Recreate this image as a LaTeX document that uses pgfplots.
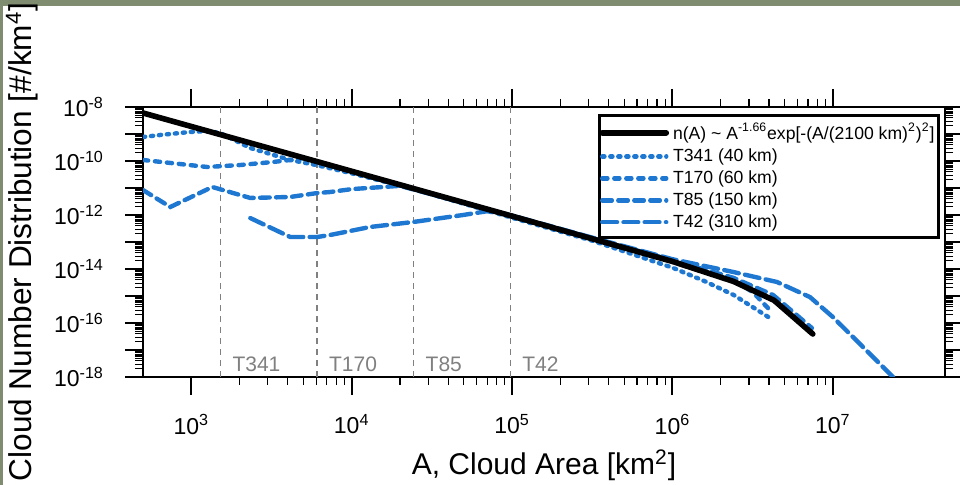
\documentclass[border=0pt]{standalone}
\usepackage{pgfplots}
\pgfplotsset{compat=1.18}
\usepackage{fontspec}
\setmainfont{Liberation Sans}

\definecolor{lineblue}{RGB}{30,120,210}
\definecolor{framegreen}{RGB}{128,140,112}
\definecolor{resgray}{RGB}{128,128,128}

% series styles
\tikzset{
  fitline/.style={black, line width=2.8pt, line cap=round, line join=round},
  t341/.style={lineblue, line width=2.2pt, line cap=round, dash pattern=on 1.1pt off 2.9pt},
  t170/.style={lineblue, line width=2.2pt, line cap=round, dash pattern=on 2.6pt off 3.4pt},
  t85/.style={lineblue, line width=2.2pt, line cap=round, dash pattern=on 4.8pt off 3.2pt},
  t42/.style={lineblue, line width=2.2pt, line cap=round, dash pattern=on 7.4pt off 3.2pt},
  resline/.style={resgray, line width=0.7pt, dash pattern=on 3pt off 2.5pt},
}

\begin{document}
\begin{tikzpicture}
\useasboundingbox (-71.5pt,-54pt) rectangle (408.5pt,188.5pt);
\clip (-71.5pt,-54pt) rectangle (408.5pt,188.5pt);
\fill[framegreen] (-71.5pt,185.5pt) rectangle (408.5pt,188.5pt);
\fill[framegreen] (-71.5pt,-54pt) rectangle (-70pt,188.5pt);

\begin{axis}[
  at={(0pt,0pt)}, anchor=south west,
  width=401pt, height=135pt, scale only axis,
  xmode=log, ymode=log,
  xmin=500, xmax=5e7, ymin=1e-18, ymax=1e-8,
  xtick={1e3,1e4,1e5,1e6,1e7},
  xticklabels={10\textsuperscript{3},10\textsuperscript{4},10\textsuperscript{5},10\textsuperscript{6},10\textsuperscript{7}},
  ytick={1e-18,1e-17,1e-16,1e-15,1e-14,1e-13,1e-12,1e-11,1e-10,1e-9,1e-8},
  yticklabels={10\textsuperscript{-18},,10\textsuperscript{-16},,10\textsuperscript{-14},,10\textsuperscript{-12},,10\textsuperscript{-10},,10\textsuperscript{-8}},
  xtick pos=both, ytick pos=both,
  tick align=outside,
  major tick length=9pt, minor tick length=4pt,
  major tick style={black, line width=1pt},
  minor tick style={black, line width=0.6pt},
  axis line style={line width=1.2pt},
  /pgf/number format/assume math mode=true,
  ticklabel style={font=\fontsize{11.5}{13}\selectfont},
  xticklabel style={yshift=-6pt},
  yticklabel style={xshift=-7pt},
  xlabel={A, Cloud Area [km\textsuperscript{2}]},
  ylabel={Cloud Number Distribution [\#/km\textsuperscript{4}]},
  xlabel style={font=\fontsize{15}{18}\selectfont, at={(axis description cs:0.5,0)}, anchor=base, yshift=-49pt},
  ylabel style={font=\fontsize{15.8}{18}\selectfont, at={(axis description cs:-0.1509,0.5)}, anchor=center},
  legend style={at={(1,1)}, anchor=north east, xshift=-2.5pt, yshift=-3.5pt,
    draw=black, line width=1.5pt, fill=white,
    font=\fontsize{8.8}{10}\selectfont, inner xsep=0pt, inner ysep=1.8pt,
    row sep=-0.9pt, cells={anchor=west, inner xsep=1.2pt}},
  legend image code/.code={\draw[#1] (0pt,0pt) -- (32pt,0pt);},
]

% legend entries
\addlegendimage{fitline}
\addlegendentry{n(A) \textasciitilde{} A\textsuperscript{-1.66}exp[-(A/(2100 km)\textsuperscript{2})\textsuperscript{2}]}
\addlegendimage{t341}
\addlegendentry{T341 (40 km)}
\addlegendimage{t170}
\addlegendentry{T170 (60 km)}
\addlegendimage{t85}
\addlegendentry{T85 (150 km)}
\addlegendimage{t42}
\addlegendentry{T42 (310 km)}

% effective resolution of each grid
\addplot[resline, forget plot] coordinates {(1521,1e-18) (1521,1e-8)};
\addplot[resline, forget plot] coordinates {(6084,1e-18) (6084,1e-8)};
\addplot[resline, forget plot] coordinates {(24336,1e-18) (24336,1e-8)};
\addplot[resline, forget plot] coordinates {(97344,1e-18) (97344,1e-8)};

% T42
\addplot[t42, forget plot] coordinates {
 (2333,7.7e-13) (4140,1.53e-13) (6095,1.53e-13) (7345,1.82e-13)
 (13030,3.6e-13) (24150,5.5e-13) (49550,1.0e-12) (69820,1.38e-12)
 (1e5,9.5e-13) (3.16e5,1.45e-13) (1e6,2.3e-14) (2.38e6,7.8e-15)
 (4.48e6,3.3e-15) (7.2e6,9.1e-16) (1e7,1.66e-16) (2.37e7,1e-18) (2.63e7,5.6e-19)
};
% T85
\addplot[t85, forget plot] coordinates {
 (500,8.4e-12) (740,1.98e-12) (1352,1.09e-11) (2333,4.27e-12)
 (4140,4.65e-12) (6095,6.5e-12) (7345,7.1e-12) (1e4,9.1e-12)
 (2.0e4,1.2e-11) (1e5,9.3e-13) (1e6,2.1e-14) (2.4e6,4.7e-15)
 (4.23e6,1.1e-15) (7.4e6,6.5e-17)
};
% T170
\addplot[t170, forget plot] coordinates {
 (500,1.09e-10) (1259,6.0e-11) (2018,7.1e-11) (3243,9.2e-11)
 (4140,1.09e-10) (5129,1.3e-10) (1e4,4.0e-11) (1e5,8.7e-13)
 (3.16e5,1.32e-13) (1e6,1.9e-14) (2.38e6,3.9e-15) (3.16e6,1.41e-15)
 (4.05e6,3.0e-16)
};
% T341
\addplot[t341, forget plot] coordinates {
 (500,7.74e-10) (641,9.2e-10) (986,1.19e-9) (1312,1.29e-9)
 (1560,1.0e-9) (2333,3.03e-10) (4140,1.09e-10) (6012,7.1e-11)
 (1e4,3.5e-11) (24150,9.2e-12) (1e5,7.9e-13) (3.16e5,1.12e-13)
 (1e6,1.12e-14) (1.585e6,3.55e-15) (2.4e6,1.1e-15) (4.23e6,1.29e-16)
};
% power law with exponential cut-off
\addplot[fitline, forget plot] coordinates {
 (500,6.0e-9) (1e4,4.17e-11) (1e5,9.1e-13) (1e6,1.9e-14)
 (2.4e6,3.47e-15) (4.3e6,6.9e-16) (7.5e6,3.9e-17)
};

% resolution labels
\node[resgray, anchor=base west, font=\fontsize{10.5}{12}\selectfont, xshift=2.5pt, yshift=2.5pt] at (axis cs:1521,1e-18) {T341};
\node[resgray, anchor=base west, font=\fontsize{10.5}{12}\selectfont, xshift=2.5pt, yshift=2.5pt] at (axis cs:6084,1e-18) {T170};
\node[resgray, anchor=base west, font=\fontsize{10.5}{12}\selectfont, xshift=2.5pt, yshift=2.5pt] at (axis cs:24336,1e-18) {T85};
\node[resgray, anchor=base west, font=\fontsize{10.5}{12}\selectfont, xshift=2.5pt, yshift=2.5pt] at (axis cs:97344,1e-18) {T42};
\end{axis}
\end{tikzpicture}
\end{document}
